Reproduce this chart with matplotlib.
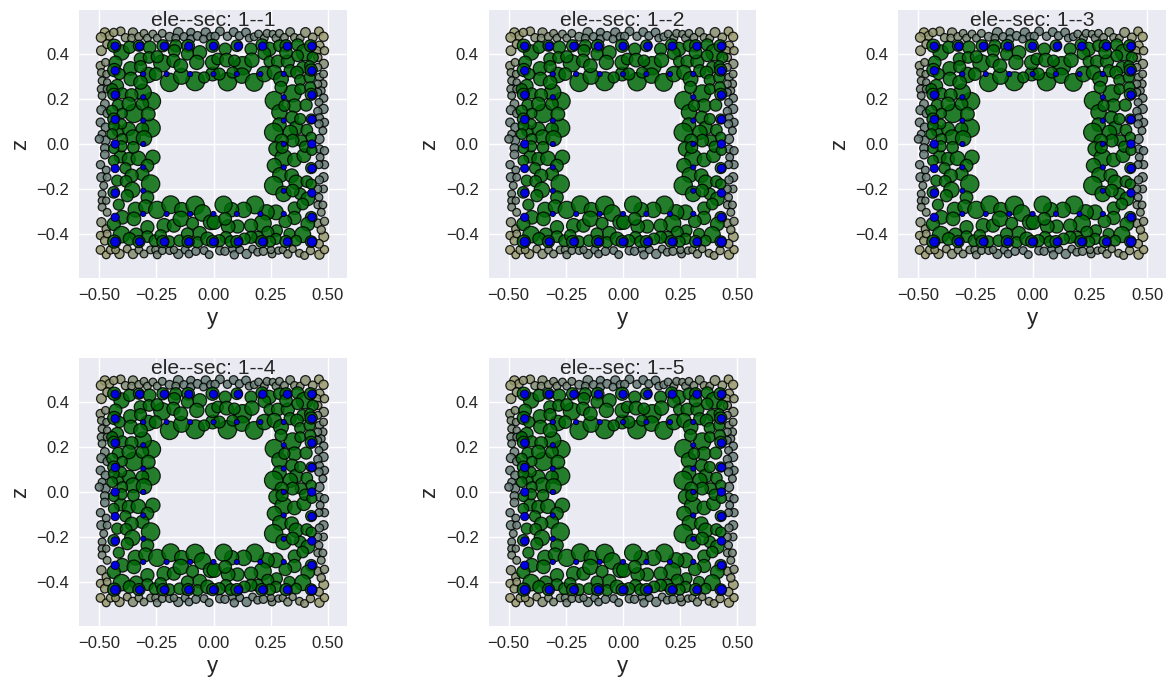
import matplotlib
matplotlib.use("Agg")
import matplotlib.pyplot as plt
from matplotlib.colors import LinearSegmentedColormap

plt.style.use("seaborn-v0_8")
plt.rcParams["font.family"] = ["Liberation Sans", "DejaVu Sans"]

titles = ["ele--sec: 1--1", "ele--sec: 1--2", "ele--sec: 1--3", "ele--sec: 1--4", "ele--sec: 1--5"]
x_ticks = [-0.50, -0.25, 0.00, 0.25, 0.50]
y_ticks = [-0.4, -0.2, 0.0, 0.2, 0.4]

# rebars, outer ring
rebar_y = [-.43, -.323, -.215, -.108, 0, .108, .215, .323, .43,
           -.43, -.323, -.215, -.108, 0, .108, .215, .323, .43,
           -.43, -.43, -.43, -.43, -.43, -.43, -.43,
           .43, .43, .43, .43, .43, .43, .43]
rebar_z = [.435, .435, .435, .435, .435, .435, .435, .435, .435,
           -.435, -.435, -.435, -.435, -.435, -.435, -.435, -.435, -.435,
           .326, .218, .109, 0, -.109, -.218, -.326,
           .326, .218, .109, 0, -.109, -.218, -.326]
rebar_s = [36, 36, 36, 36, 36, 36, 36, 36, 36,
           46, 36, 36, 36, 36, 36, 36, 36, 46,
           36, 36, 36, 36, 36, 36, 36,
           36, 36, 36, 36, 36, 36, 36]

# rebars, inner ring
inner_y = [-.307, -.205, -.102, 0, .102, .205, .307,
           -.307, -.205, -.102, 0, .102, .205, .307,
           -.307, -.307, -.307, -.307, -.307,
           .307, .307, .307, .307, .307]
inner_z = [.311, .311, .311, .311, .311, .311, .311,
           -.311, -.311, -.311, -.311, -.311, -.311, -.311,
           .208, .104, 0, -.104, -.208,
           .208, .104, 0, -.104, -.208]
inner_s = [14] * 24

# core fibers
core_y = [-.270, -.273, -.192, -.080, -.140, -.348, -.308, -.224, -.402, -.363, -.285, -.434, -.367, -.326, -.279,
          -.221, -.165, -.111, -.060, -.004, -.428, -.319, -.282, -.246, -.171, -.175, -.114, -.073, -.143, -.434,
          -.411, -.319, -.361, -.004, -.041, -.253, -.421, -.443, -.399, -.358, -.319, -.436, -.417, -.370, -.311,
          -.399, -.285, -.443, -.436, -.417, -.370, -.311, -.402, -.352, -.304, -.436, -.443, -.399,
          .051, .102, .164, .212, .244, .288, .317, .368, .398, .424, .434, -.004, .018, .057, .127,
          .091, .168, .222, .244, .281, .325, .317, .390, .420, .368, .061, .124, .178, .222, .266,
          .295, .335, .365, .025, .083, .379, .420, .427, .266, .346, .295, .288, .354, .310, .379,
          .423, .405, .427, .344, .288, .263, .361, .336, .408, .383, .346, .427, .379, .427, .298,
          -.406, -.370, -.329, -.265, -.289, -.436, -.385, -.311, -.358, -.421, -.275, -.382, -.355, -.289, -.436,
          -.377, -.414, -.341, -.297, -.246, -.187, -.139, -.080, -.048, -.399, -.348, -.436, -.289, -.216, -.173,
          -.143, -.092, -.012, -.060, -.402, -.338, -.367, -.289, -.256, -.231, -.194, -.148, -.114, -.070, -.026,
          -.434, -.221, -.326, -.111,
          .273, .306, .354, .395, .266, .291, .342, .361, .408, .263, .427, .379, .306, .346, .412,
          .427, .354, .390, .273, .232, .181, .132, .079, .044, .427, .412, .354, .314, .215, .164,
          .105, .064, .003, .051, .276, .332, .237, .390, .273, .193, .164, .135, .054, .025, .076,
          .247, .361, .427, .317, .211, .102, -.004,
          -.402, -.436, -.350, .400, .430, .300]
core_z = [.190, .071, .274, .279, .301, .136, .230, .359, .407, .336, .307, .437, .430, .437, .430,
          .437, .437, .437, .407, .437, .363, .378, .385, .388, .415, .370, .400, .363, .348, .329,
          .311, .344, .289, .311, .296, .311, .259, .244, .225, .218, .274, .221, .173, .178, .178,
          .136, .133, .148, .111, .059, .067, .067, .089, .030, .025, .081, .044, .022,
          .422, .437, .422, .441, .422, .437, .437, .441, .407, .437, .385, .363, .378, .373, .348,
          .370, .373, .403, .367, .367, .367, .407, .341, .348, .392, .277, .304, .274, .311, .318,
          .289, .326, .318, .311, .318, .284, .296, .329, .193, .225, .252, .141, .170, .170, .244,
          .252, .173, .221, .118, .086, .052, .071, .052, .062, .015, .015, .030, .111, .111, .015,
          -.056, -.067, -.064, -.059, -.096, -.074, -.108, -.133, -.141, -.163, -.178, -.166, -.204, -.237, -.215,
          -.230, -.270, -.292, -.279, -.293, -.270, -.292, -.273, -.307, -.326, -.333, -.356, -.370, -.363, -.363,
          -.333, -.353, -.348, -.397, -.403, -.403, -.422, -.412, -.430, -.407, -.434, -.430, -.400, -.437, -.422,
          -.434, -.434, -.434, -.434,
          -.022, -.062, -.071, -.052, -.096, -.138, -.141, -.170, -.167, -.185, -.107, -.222, -.222, -.207, -.244,
          -.178, -.286, -.267, -.304, -.304, -.271, -.293, -.292, -.270, -.326, -.356, -.329, -.344, -.353, -.363,
          -.367, -.367, -.348, -.333, -.385, -.400, -.393, -.403, -.422, -.415, -.415, -.422, -.415, -.430, -.434,
          -.434, -.430, -.434, -.434, -.434, -.434, -.434,
          -.010, -.020, -.015, -.012, -.028, -.015]
core_s = [132, 144, 144, 155, 101, 144, 111, 122, 92, 66, 92, 59, 45, 33, 52,
          45, 45, 52, 66, 59, 52, 52, 39, 45, 45, 59, 45, 75, 66, 59,
          33, 45, 66, 66, 33, 52, 52, 33, 33, 52, 66, 45, 39, 66, 52,
          23, 66, 33, 45, 39, 59, 52, 23, 83, 92, 28, 28, 28,
          45, 39, 45, 45, 66, 39, 45, 45, 111, 45, 33, 75, 39, 66, 144,
          39, 75, 52, 28, 52, 59, 52, 39, 23, 39, 144, 92, 132, 92, 75,
          83, 45, 52, 45, 33, 33, 33, 45, 144, 122, 45, 92, 66, 33, 28,
          33, 45, 45, 52, 66, 144, 66, 75, 39, 39, 52, 23, 33, 23, 59,
          52, 59, 75, 75, 52, 28, 33, 59, 59, 33, 144, 39, 92, 52, 39,
          45, 33, 83, 66, 122, 132, 75, 144, 111, 66, 66, 59, 59, 75, 59,
          92, 45, 83, 66, 111, 59, 52, 39, 39, 39, 39, 39, 45, 33, 66,
          59, 45, 45, 45,
          75, 122, 66, 66, 75, 83, 66, 75, 39, 144, 33, 39, 92, 52, 66,
          23, 52, 39, 83, 92, 132, 92, 75, 122, 39, 66, 59, 52, 122, 59,
          59, 66, 75, 52, 39, 33, 45, 101, 33, 45, 45, 39, 39, 45, 39,
          33, 28, 39, 45, 45, 45, 45,
          33, 23, 39, 33, 23, 45]

# cover fibers, shade runs from mid side (0) to corner (1)
cover_y = [-.475, -.455, -.406, -.436, -.385, -.352, -.358, -.326, -.304, -.289, -.265, -.246, -.224, -.192, -.154,
           -.165, -.129, -.099, -.099, -.070, -.034, -.044, -.012,
           -.491, -.490, -.465, -.494, -.472, -.490, -.468, -.487, -.465, -.490, -.465, -.487, -.475, -.490, -.465,
           -.494, -.472, -.487, -.472, -.499,
           .028, .007, .061, .088, .113, .142, .156, .178, .197, .222, .234, .259, .273, .288, .310,
           .335, .354, .379, .402, .434, .461, .481, .463, .452, .485, .456, .482, .456, .463, .481,
           .478, .456, .471, .456, .482, .461, .481, .456, .463, .485, .461, .478, .463,
           -.475, -.475, -.494, -.469, -.490, -.465, -.480, -.487, -.487, -.469, -.487, -.465, -.490, -.469, -.494,
           -.475, -.465, -.494, -.469, -.450, -.411, -.428, -.377, -.352, -.326, -.304, -.275, -.253, -.246, -.224,
           -.192, -.154, -.173, -.124, -.107, -.077, -.041, -.019,
           .028, .050, .083, .091, .115, .145, .171, .193, .218, .256, .251, .284, .303, .325, .346,
           .376, .398, .424, .463, .485, .482, .461, .463, .485, .466, .485, .461, .481, .463, .481,
           .456, .461, .456, .478, .471, .456, .485, .471]
cover_z = [.496, .481, .501, .496, .473, .496, .471, .477, .492, .471, .489, .471, .492, .477, .496,
           .471, .477, .496, .467, .481, .496, .467, .477,
           .474, .415, .444, .348, .363, .318, .311, .281, .274, .244, .244, .215, .178, .151, .136,
           .096, .074, .044, .015, .022,
           .501, .479, .479, .498, .481, .496, .471, .477, .489, .471, .492, .489, .471, .492, .474,
           .498, .474, .471, .496, .474, .501, .477, .437, .415, .415, .385, .356, .341, .296, .311,
           .267, .267, .237, .230, .204, .185, .156, .145, .116, .096, .089, .059, .022,
           -.018, -.047, -.092, -.116, -.148, -.148, -.185, -.222, -.252, -.252, -.281, -.304, -.348, -.378, -.407,
           -.430, -.400, -.471, -.493, -.471, -.489, -.471, -.467, -.489, -.471, -.489, -.471, -.471, -.493, -.474,
           -.474, -.489, -.471, -.471, -.489, -.477, -.474, -.492,
           -.474, -.477, -.467, -.493, -.470, -.489, -.467, -.481, -.477, -.489, -.471, -.474, -.471, -.489, -.467,
           -.486, -.496, -.474, -.492, -.470, -.412, -.444, -.022, -.030, -.059, -.092, -.092, -.148, -.160, -.200,
           -.200, -.237, -.271, -.271, -.304, -.353, -.344, -.382]
cover_s = [28, 23, 23, 19, 19, 28, 15, 19, 15, 15, 15, 15, 15, 23, 33,
           15, 19, 19, 19, 23, 28, 15, 19,
           33, 33, 23, 23, 15, 15, 11, 15, 11, 19, 15, 15, 23, 28, 19,
           23, 23, 15, 28, 19,
           23, 19, 19, 23, 19, 23, 15, 15, 15, 15, 15, 11, 15, 15, 15,
           23, 15, 15, 33, 23, 23, 28, 28, 19, 19, 19, 28, 15, 19, 15,
           19, 15, 15, 15, 19, 15, 28, 19, 19, 19, 19, 15, 28,
           23, 23, 19, 15, 28, 15, 15, 15, 15, 11, 15, 15, 28, 19, 19,
           23, 15, 23, 15, 19, 28, 15, 15, 28, 15, 15, 15, 15, 15, 15,
           15, 28, 11, 15, 15, 19, 15, 15,
           23, 19, 15, 19, 15, 28, 15, 15, 19, 15, 11, 11, 11, 19, 11,
           15, 15, 19, 28, 19, 33, 23, 19, 19, 15, 19, 15, 28, 19, 15,
           15, 15, 15, 15, 15, 23, 19, 19]
cover_shade = [1, .9, .8, .85, .6, .6, .55, .5, .45, .4, .35, .3, .3, .2, .15,
               .2, .1, .1, .1, .1, .1, .1, .1,
               .95, .8, .8, .55, .55, .45, .4, .35, .3, .3, .3, .25, .2, .15, .15,
               .1, .1, .1, .1, .1,
               .1, .1, .1, .1, .1, .1, .1, .15, .2, .25, .25, .3, .3, .35, .4,
               .45, .5, .55, .7, .8, .95, 1, .9, .8, .8, .65, .55, .5, .35, .4,
               .3, .3, .2, .2, .15, .15, .1, .1, .1, .1, .1, .1, .1,
               .1, .1, .1, .1, .15, .15, .2, .25, .3, .3, .35, .4, .6, .7, .85,
               .9, .8, 1, 1, .9, .85, .85, .7, .6, .5, .45, .4, .3, .3, .25,
               .2, .15, .2, .1, .1, .1, .1, .1,
               .1, .1, .1, .1, .1, .1, .15, .2, .25, .3, .3, .35, .4, .45, .5,
               .6, .7, .8, .95, 1, .95, .9, .1, .1, .1, .1, .1, .15, .15, .2,
               .2, .25, .3, .3, .4, .55, .55, .7]

# edge line eats part of each marker, so pad the areas a bit
core_pad = 30
cover_pad = 16
cover_cmap = LinearSegmentedColormap.from_list("cover", ["#5f7876", "#999a6c"])

fig, axes = plt.subplots(2, 3, figsize=(11.76, 6.86), dpi=100)
fig.subplots_adjust(left=79 / 1176, right=1166 / 1176, top=1 - 10 / 686, bottom=1 - 626 / 686,
                    wspace=0.529, hspace=0.2985)
axes = axes.ravel()
axes[5].remove()

for ax, title in zip(axes, titles):
    ax.scatter(cover_y, cover_z, s=[v + cover_pad for v in cover_s], c=cover_shade, cmap=cover_cmap, vmin=0, vmax=1,
               edgecolors="black", linewidths=0.9, alpha=0.85, zorder=2)
    ax.scatter(core_y, core_z, s=[v + core_pad for v in core_s], c="#006a08", edgecolors="black", linewidths=0.9,
               alpha=0.85, zorder=3)
    ax.scatter(rebar_y, rebar_z, s=rebar_s, c="#0000e0", edgecolors="black", linewidths=0.6, zorder=4)
    ax.scatter(inner_y, inner_z, s=inner_s, c="#0000e0", edgecolors="black", linewidths=0.6, zorder=4)
    ax.set_xlim(-0.588, 0.583)
    ax.set_ylim(-0.596, 0.596)
    ax.set_xticks(x_ticks)
    ax.set_yticks(y_ticks)
    ax.tick_params(labelsize=12)
    ax.set_xlabel("y", fontsize=16)
    ax.set_ylabel("z", fontsize=16)
    ax.set_title(title, fontsize=15.2, y=0.94, pad=0, zorder=5)

fig.savefig("out.png", dpi=100)
